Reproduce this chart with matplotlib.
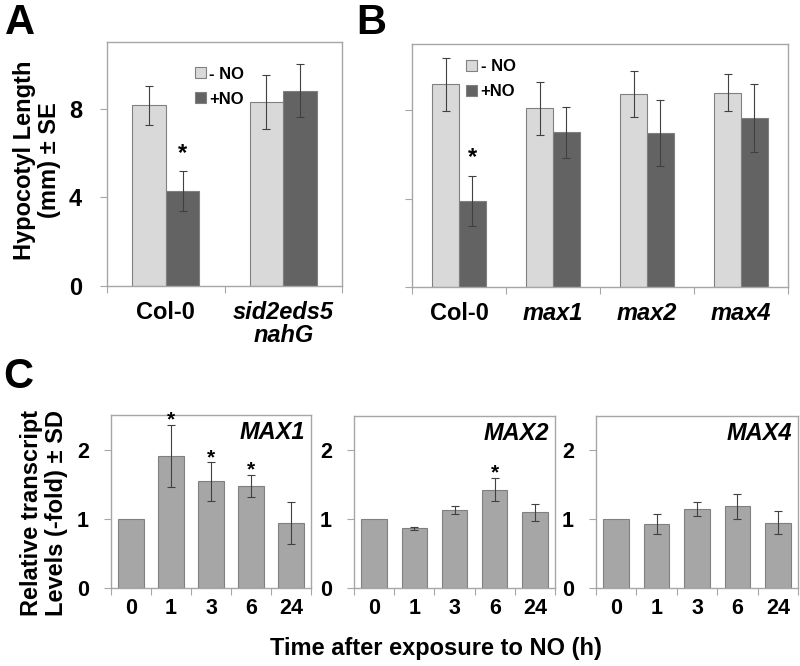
import numpy as np
import matplotlib.pyplot as plt
from matplotlib.patches import Patch

plt.rcParams['font.family'] = ['Liberation Sans', 'DejaVu Sans']
plt.rcParams['font.weight'] = 'bold'

#----------------------------------------------------------------------
# data

genotypes_a = ["Col-0", "sid2eds5\nnahG"]
a_minus = [8.15, 8.3]
a_minus_err = [0.87, 1.2]
a_plus = [4.27, 8.8]
a_plus_err = [0.9, 1.2]
a_stars = [True, False]

genotypes_b = ["Col-0", "max1", "max2", "max4"]
b_minus = [9.18, 8.09, 8.73, 8.8]
b_minus_err = [1.2, 1.2, 1.05, 0.85]
b_plus = [3.9, 7.0, 6.97, 7.64]
b_plus_err = [1.13, 1.15, 1.5, 1.55]
b_stars = [True, False, False, False]

times = ["0", "1", "3", "6", "24"]
max1 = [1.0, 1.91, 1.54, 1.48, 0.94]
max1_sd = [0, 0.45, 0.28, 0.16, 0.3]
max1_stars = [False, True, True, True, False]
max2 = [1.0, 0.87, 1.13, 1.43, 1.1]
max2_sd = [0, 0.02, 0.06, 0.17, 0.12]
max2_stars = [False, False, False, True, False]
max4 = [1.0, 0.93, 1.15, 1.19, 0.95]
max4_sd = [0, 0.14, 0.1, 0.18, 0.17]
max4_stars = [False, False, False, False, False]

#----------------------------------------------------------------------

SPINE = "#a6a6a6"
LIGHT = "#d9d9d9"
DARK = "#636363"
MID = "#a6a6a6"
EDGE = "#808080"
ERR = "#404040"


def frame(ax, n, ymax, yticks, pad_y, pad_x, fs):
    for s in ax.spines.values():
        s.set_color(SPINE)
        s.set_linewidth(1.0)
    ax.set_xlim(-0.5, n - 0.5)
    ax.set_ylim(0, ymax)
    ax.set_yticks(yticks)
    ax.set_xticks(np.arange(n + 1) - 0.5)
    ax.set_xticklabels([])
    ax.tick_params(axis='x', which='major', length=5, color=SPINE, direction='out')
    ax.tick_params(axis='y', which='major', length=5, color=SPINE, direction='out',
                   pad=pad_y, labelsize=fs)
    ax.set_xticks(np.arange(n), minor=True)
    ax.tick_params(axis='x', which='minor', length=0, pad=pad_x, labelsize=fs)


def errs(ax, x, y, e):
    for xi, yi, ei in zip(x, y, e):
        if ei > 0:
            ax.errorbar(xi, yi, yerr=ei, fmt='none', ecolor=ERR, elinewidth=0.8,
                        capsize=3, capthick=0.8)


def paired(ax, cats, minus, minus_err, plus, plus_err, stars):
    x = np.arange(len(cats))
    w = 0.286
    ax.bar(x - w / 2, minus, w, color=LIGHT, edgecolor=EDGE, linewidth=0.8)
    ax.bar(x + w / 2, plus, w, color=DARK, edgecolor=EDGE, linewidth=0.8)
    errs(ax, x - w / 2, minus, minus_err)
    errs(ax, x + w / 2, plus, plus_err)
    for xi, yi, ei, st in zip(x, plus, plus_err, stars):
        if st:
            ax.text(xi + w / 2, yi + ei + 0.3, "*", ha='center', va='bottom', fontsize=17)
    frame(ax, len(cats), 11, [0, 4, 8], 13, 11, 17)
    ax.set_xticklabels(cats, minor=True)
    for lab in ax.get_xticklabels(minor=True):
        if lab.get_text() != "Col-0":
            lab.set_fontstyle('italic')
        lab.set_linespacing(1.0)


def timecourse(ax, vals, sd, stars, name):
    x = np.arange(len(times))
    ax.bar(x, vals, 0.63, color=MID, edgecolor=EDGE, linewidth=0.8)
    errs(ax, x, vals, sd)
    for xi, yi, ei, st in zip(x, vals, sd, stars):
        if st:
            ax.text(xi, yi + ei - 0.07, "*", ha='center', va='bottom', fontsize=15)
    frame(ax, len(times), 2.5, [0, 1, 2], 11, 7, 15.5)
    ax.set_xticklabels(times, minor=True)
    ax.text(0.97, 0.965, name, transform=ax.transAxes, ha='right', va='top',
            fontsize=17, fontstyle='italic')


W, H = 800.0, 666.0
fig = plt.figure(figsize=(8, 6.66), dpi=100)

def px_axes(left, top, right, bottom):
    return fig.add_axes([left / W, (H - bottom) / H, (right - left) / W, (bottom - top) / H])

# Panel A
axA = px_axes(107, 42, 342, 286)
paired(axA, genotypes_a, a_minus, a_minus_err, a_plus, a_plus_err, a_stars)
handles = [Patch(facecolor=LIGHT, edgecolor=EDGE, linewidth=0.8),
           Patch(facecolor=DARK, edgecolor=EDGE, linewidth=0.8)]
axA.legend(handles, ["- NO", "+NO"], loc='upper left', bbox_to_anchor=(0.31, 0.96),
           frameon=False, fontsize=12, handlelength=0.65, handleheight=0.65,
           handletextpad=0.2, labelspacing=0.6)

# Panel B
axB = px_axes(412, 44, 788, 287)
paired(axB, genotypes_b, b_minus, b_minus_err, b_plus, b_plus_err, b_stars)
axB.set_yticklabels([])
axB.legend(handles, ["- NO", "+NO"], loc='upper left', bbox_to_anchor=(0.105, 1.0),
           frameon=False, fontsize=12, handlelength=0.65, handleheight=0.65,
           handletextpad=0.2, labelspacing=0.6)

# Panel C
axC1 = px_axes(111, 415, 311, 588)
timecourse(axC1, max1, max1_sd, max1_stars, "MAX1")
axC2 = px_axes(354, 416, 555, 588)
timecourse(axC2, max2, max2_sd, max2_stars, "MAX2")
axC3 = px_axes(596, 416, 798, 588)
timecourse(axC3, max4, max4_sd, max4_stars, "MAX4")

# labels
fig.text(37 / W, 1 - 160 / H, "Hypocotyl Length\n(mm) \u00b1 SE", rotation=90,
         ha='center', va='center', fontsize=17, linespacing=1.15)
fig.text(44 / W, 1 - 513 / H, "Relative transcript\nLevels (-fold) \u00b1 SD", rotation=90,
         ha='center', va='center', fontsize=17, linespacing=1.1)
fig.text(436 / W, 1 - 648 / H, "Time after exposure to NO (h)", ha='center', va='center',
         fontsize=17)

fig.text(5 / W, 1 - 3 / H, "A", ha='left', va='top', fontsize=30)
fig.text(356 / W, 1 - 3 / H, "B", ha='left', va='top', fontsize=30)
fig.text(3 / W, 1 - 357 / H, "C", ha='left', va='top', fontsize=30)

fig.savefig("out.png", dpi=100)
